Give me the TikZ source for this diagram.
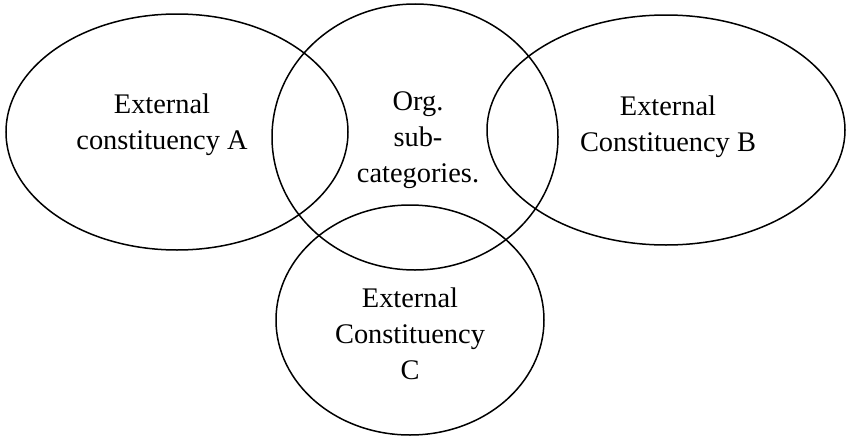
\documentclass[tikz,border=0pt]{standalone}
\usepackage{fontspec}
\setmainfont{Liberation Serif}
\usetikzlibrary{shapes.geometric}
\begin{document}
\begin{tikzpicture}[
    x=0.5pt, y=-0.5pt,
    font=\fontsize{14.2}{18}\selectfont,
    insieme/.style={draw, ellipse, line width=0.75pt, inner sep=0pt},
    lab/.style={align=center, inner sep=1pt},
  ]

  \useasboundingbox (0,0) rectangle (846,439);

  % ---- gli insiemi (centri e semiassi in pixel) -----------------------------
  \node[insieme, minimum width=171pt, minimum height=118pt] (extA) at (177,132) {};
  \node[insieme, minimum width=143pt, minimum height=133pt] (org)  at (415,137) {};
  \node[insieme, minimum width=179pt, minimum height=115pt] (extB) at (666,130) {};
  \node[insieme, minimum width=134pt, minimum height=115pt] (extC) at (410,320) {};

  % ---- le etichette ---------------------------------------------------------
  \node[lab] (labA) at (162,125) {External\\constituency A};
  \node[lab] (labO) at (418,140) {Org.\\sub-\\categories.};
  \node[lab] (labB) at (668,127) {External\\Constituency B};
  \node[lab] (labC) at (410,334) {External\\Constituency\\C};

\end{tikzpicture}
\end{document}
